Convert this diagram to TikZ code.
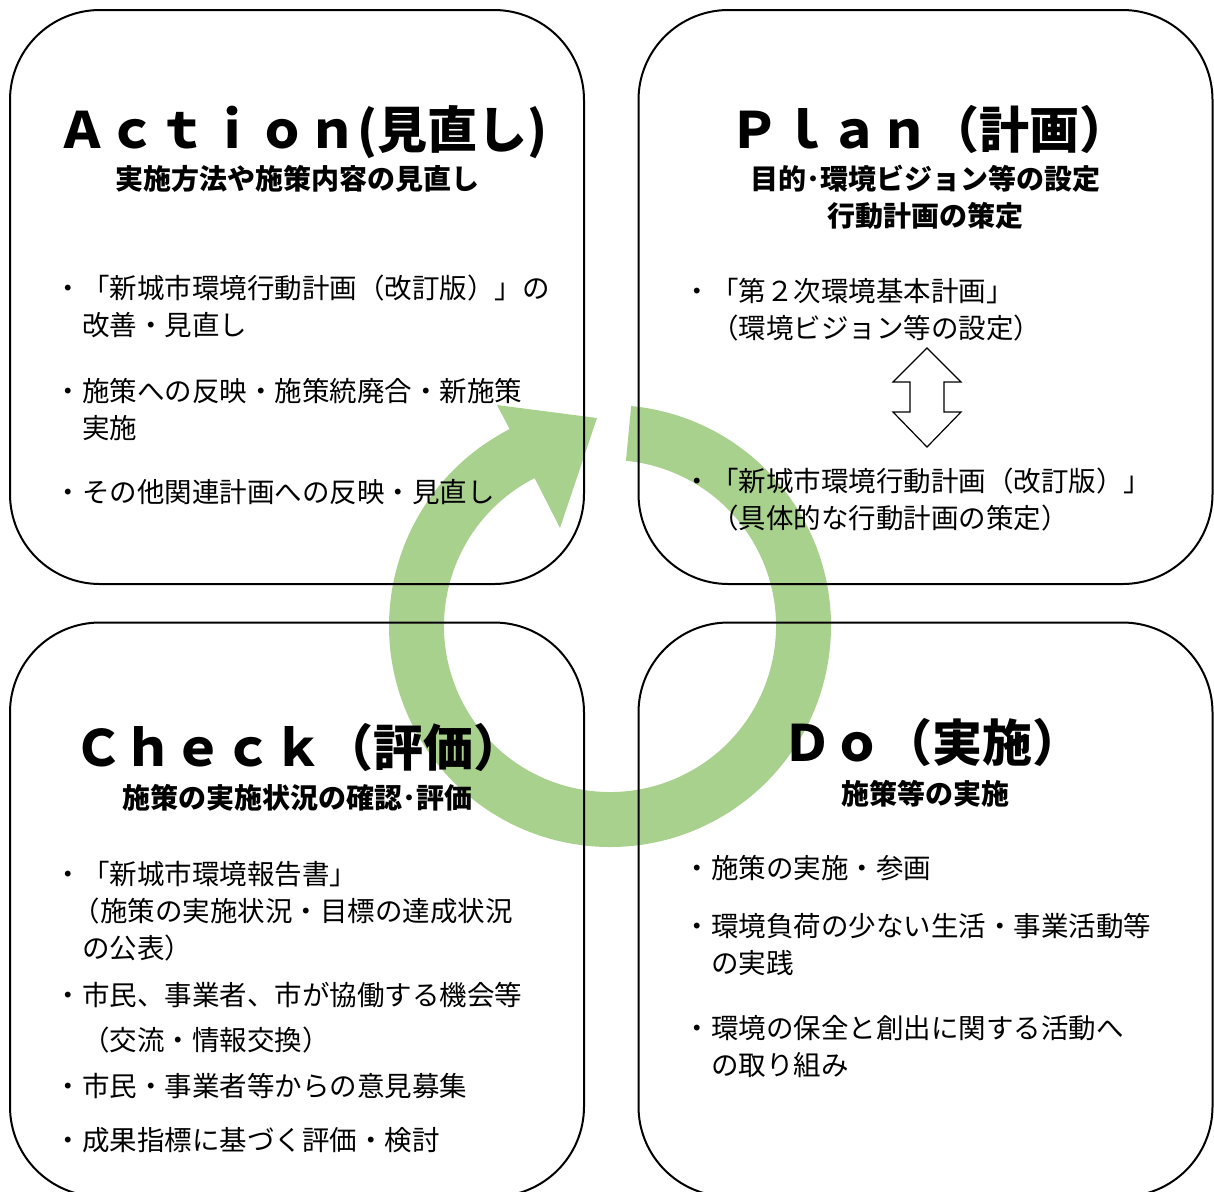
\documentclass[tikz,border=0pt]{standalone}
\usepackage{fontspec}
\setmainfont{Noto Sans CJK JP}
\definecolor{ringgreen}{HTML}{A9D18E}

\begin{document}
\begin{tikzpicture}[x=0.5pt,y=-0.5pt,
    panel/.style={draw=black,line width=1pt,rounded corners=45pt,
      minimum width=287pt,minimum height=287pt,inner sep=0pt},
    ttl/.style={font=\bfseries\fontsize{25}{29}\selectfont,inner sep=0pt,anchor=base},
    sub/.style={font=\bfseries\fontsize{14}{18.5}\selectfont,inner sep=0pt,anchor=base,align=center},
    item/.style={font=\fontsize{13.75}{18.5}\selectfont,inner sep=0pt,anchor=base west,align=left},
    twoway/.style={draw=black,fill=white,line width=0.6pt,line join=miter}]

  \useasboundingbox (0,0) rectangle (1214,1191);

  % PDCA cycle arrow
  \coordinate (hub) at (610,626);
  \fill[ringgreen] ([shift={(hub)}]-84.5:221) arc[start angle=-84.5,end angle=243,radius=221]
    -- (497,405) -- (597,418) -- (560,528)
    -- ([shift={(hub)}]243:166) arc[start angle=243,end angle=-84.5,radius=166] -- cycle;

  % four panels
  \node[panel] (act) at (297,297) {};
  \node[panel] (plan) at (925.5,297) {};
  \node[panel] (chk) at (297,909.5) {};
  \node[panel] (dobox) at (925.5,909.5) {};

  % Action (base of multi-line nodes = last line)
  \node[ttl] (actT) at (302,148) {Ａｃｔｉｏｎ(見直し)};
  \node[sub] (actS) at (297,189) {実施方法や施策内容の見直し};
  \node[item] (act1) at (54.5,335) {・「新城市環境行動計画（改訂版）」の\\\hspace*{1em}改善・見直し};
  \node[item] (act2) at (54.5,438) {・施策への反映・施策統廃合・新施策\\\hspace*{1em}実施};
  \node[item] (act3) at (54.5,502) {・その他関連計画への反映・見直し};

  % Plan
  \node[ttl] (planT) at (929,148) {Ｐｌａｎ（計画）};
  \node[sub] (planS) at (925.5,226) {目的･環境ビジョン等の設定\\行動計画の策定};
  \node[item] (plan1) at (683.5,338) {・「第２次環境基本計画」\\\hspace*{1em}（環境ビジョン等の設定）};
  \node[item] (plan2) at (683.5,528) {・「新城市環境行動計画（改訂版）」\\\hspace*{1em}（具体的な行動計画の策定）};
  \coordinate (swap) at (927,348);
  \draw[twoway] (swap) -- ++(34,34) -- ++(-17,0) -- ++(0,30) -- ++(17,0) -- ++(-34,35)
    -- ++(-34,-35) -- ++(17,0) -- ++(0,-30) -- ++(-17,0) -- cycle;

  % Check
  \node[ttl] (chkT) at (298,766) {Ｃｈｅｃｋ（評価）};
  \node[sub] (chkS) at (297,808) {施策の実施状況の確認･評価};
  \node[item] (chk1) at (54.5,958) {・「新城市環境報告書」\\\hspace*{0.65em}（施策の実施状況・目標の達成状況\\\hspace*{1em}の公表）};
  \node[item] (chk2) at (54.5,1050) {・市民、事業者、市が協働する機会等\\[4pt]\hspace*{1em}（交流・情報交換）};
  \node[item] (chk3) at (54.5,1096) {・市民・事業者等からの意見募集};
  \node[item] (chk4) at (54.5,1150) {・成果指標に基づく評価・検討};

  % Do
  \node[ttl] (doT) at (932,761) {Ｄｏ（実施）};
  \node[sub] (doS) at (925.5,804) {施策等の実施};
  \node[item] (do1) at (683.5,878) {・施策の実施・参画};
  \node[item] (do2) at (683.5,973) {・環境負荷の少ない生活・事業活動等\\\hspace*{1em}の実践};
  \node[item] (do3) at (683.5,1075) {・環境の保全と創出に関する活動へ\\\hspace*{1em}の取り組み};
\end{tikzpicture}
\end{document}
